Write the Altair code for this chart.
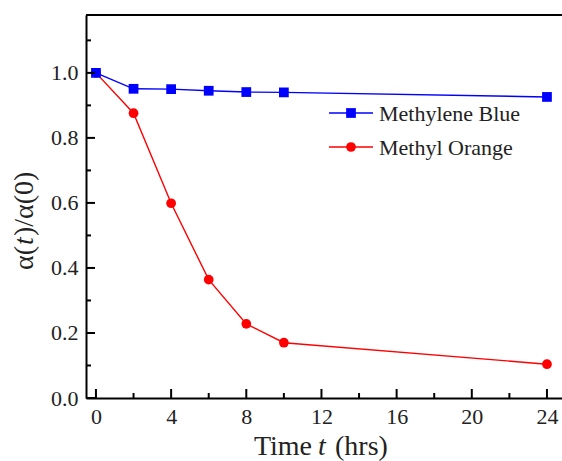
import altair as alt
import pandas as pd

# ---- data ----
time_hrs = [0, 2, 4, 6, 8, 10, 24]
methylene_blue = [1.0, 0.951, 0.950, 0.945, 0.941, 0.940, 0.926]
methyl_orange = [1.0, 0.876, 0.599, 0.364, 0.228, 0.170, 0.104]

series_names = ["Methylene Blue", "Methyl Orange"]
series_colors = ["#0000FF", "#FF0000"]

x_major = [0, 4, 8, 12, 16, 20, 24]
x_minor = [2, 6, 10, 14, 18, 22]
y_major = [0.0, 0.2, 0.4, 0.6, 0.8, 1.0]
y_minor = [0.1, 0.3, 0.5, 0.7, 0.9, 1.1]

x_title_parts = ["Time", "t", "(hrs)"]
y_title_parts = ["\u03b1(", "t", ")/\u03b1(0)"]

W, H = 476, 383
FONT = "Liberation Serif"

x_scale = alt.Scale(domain=[-0.53, 24.8], nice=False, zero=False)
y_scale = alt.Scale(domain=[0, 1.178], nice=False, zero=False)

df_mb = pd.DataFrame({"time": time_hrs, "value": methylene_blue, "series": series_names[0]})
df_mo = pd.DataFrame({"time": time_hrs, "value": methyl_orange, "series": series_names[1]})

x_axis = alt.Axis(values=x_major, format="d", ticks=False, grid=False, title=None,
                  domainColor="black", domainWidth=2, labelFont=FONT, labelFontSize=22,
                  labelColor="#222", labelPadding=8)
y_axis = alt.Axis(values=y_major, format=".1f", ticks=False, grid=False, title=None,
                  domainColor="black", domainWidth=2, labelFont=FONT, labelFontSize=22,
                  labelColor="#222", labelPadding=8)

X = alt.X("time:Q", scale=x_scale, axis=x_axis)
Y = alt.Y("value:Q", scale=y_scale, axis=y_axis)

def series_layer(df, color, shape, size):
    base = alt.Chart(df).encode(x=X, y=Y)
    line = base.mark_line(color=color, strokeWidth=1.4)
    pts = base.mark_point(color=color, shape=shape, filled=True, opacity=1, size=size)
    return line + pts

mb = series_layer(df_mb, series_colors[0], "square", 95)
mo = series_layer(df_mo, series_colors[1], "circle", 95)

# inward ticks
def xticks(vals, length):
    return alt.Chart(pd.DataFrame({"time": vals})).mark_rule(color="black", strokeWidth=2).encode(
        x=X, y=alt.value(H), y2=alt.value(H - length))

def yticks(vals, length):
    return alt.Chart(pd.DataFrame({"value": vals})).mark_rule(color="black", strokeWidth=2).encode(
        y=Y, x=alt.value(0), x2=alt.value(length))

top_line = alt.Chart(pd.DataFrame({"a": [0]})).mark_rule(color="black", strokeWidth=2).encode(
    x=alt.value(0), x2=alt.value(W + 5), y=alt.value(0))

def label(text, x, y, align="left", angle=0, italic=False, size=28, baseline="alphabetic"):
    kw = dict(font=FONT, fontSize=size, color="#222", align=align, baseline=baseline)
    if angle:
        kw["angle"] = angle
    if italic:
        kw["fontStyle"] = "italic"
    return alt.Chart(pd.DataFrame({"t": [text]})).mark_text(**kw).encode(
        text="t:N", x=alt.value(x), y=alt.value(y))

# axis titles (relative to plot origin at 86,15)
xt = (label(x_title_parts[0], 312 - 86, 440, align="right")
      + label(x_title_parts[1], 322 - 86, 440, align="center", italic=True)
      + label(x_title_parts[2], 335 - 86, 440, align="left"))
yt = (label(y_title_parts[0], -53, 246 - 15, align="right", angle=270)
      + label(y_title_parts[1], -53, 241 - 15, align="center", angle=270, italic=True)
      + label(y_title_parts[2], -53, 236 - 15, align="left", angle=270))

# legend
def legend_item(i, yy, shape):
    d = pd.DataFrame({"t": [series_names[i]]})
    ln = alt.Chart(d).mark_rule(color=series_colors[i], strokeWidth=1.4).encode(
        x=alt.value(329 - 86), x2=alt.value(373 - 86), y=alt.value(yy))
    pt = alt.Chart(d).mark_point(color=series_colors[i], shape=shape, filled=True, opacity=1, size=95).encode(
        x=alt.value(351 - 86), y=alt.value(yy))
    tx = alt.Chart(d).mark_text(font=FONT, fontSize=22, color="#222", align="left", baseline="middle").encode(
        text="t:N", x=alt.value(379 - 86), y=alt.value(yy + 1))
    return ln + pt + tx

legend = legend_item(0, 113 - 15, "square") + legend_item(1, 147 - 15, "circle")

chart = alt.layer(
    mo, mb,
    xticks(x_major, 9), xticks(x_minor, 5),
    yticks(y_major, 9), yticks(y_minor, 5),
    top_line, xt, yt, legend,
).resolve_scale(x="shared", y="shared").properties(
    width=W, height=H,
    autosize=alt.AutoSizeParams(type="none"),
    padding={"left": 86, "top": 15, "right": 0, "bottom": 63},
).configure_view(stroke=None).configure(background="white")

chart.save("out.html", embed_options={"renderer": "svg", "actions": False})
